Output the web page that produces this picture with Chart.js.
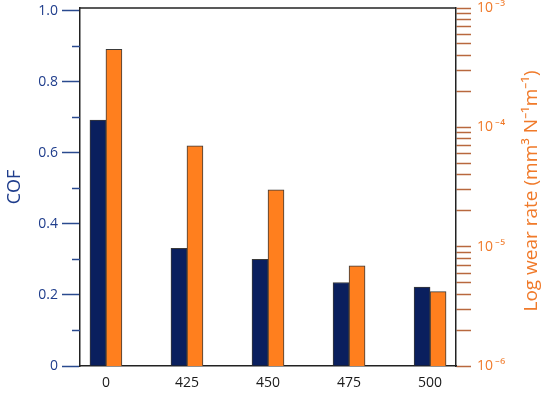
<!DOCTYPE html>
<html><head><meta charset="utf-8">
<script src="https://cdn.jsdelivr.net/npm/chart.js@4/dist/chart.umd.min.js"></script>
<style>html,body{margin:0;padding:0;background:#fff}</style>
</head><body>
<canvas id="c" width="550" height="394"></canvas>
<script>
const categories = ['0', '425', '450', '475', '500'];
const cofValues = [0.692, 0.331, 0.300, 0.235, 0.222];
const wearValues = [4.5e-4, 7.0e-5, 3.0e-5, 6.9e-6, 4.2e-6];
const cofTicks = [0, 0.1, 0.2, 0.3, 0.4, 0.5, 0.6, 0.7, 0.8, 0.9, 1.0];
const cofTickLabels = ['0', '', '0.2', '', '0.4', '', '0.6', '', '0.8', '', '1.0'];
const wearDecadeExponents = [-6, -5, -4, -3];
const wearDecadeLabels = ['10\u2009\u207B\u2076', '10\u2009\u207B\u2075', '10\u2009\u207B\u2074', '10\u2009\u207B\u00B3'];
const wearMantissas = [1, 2, 3, 4, 5, 6, 7, 8, 9];

const NAVY = '#0a1f5e', ORANGE = '#ff7f1e';
const LEFTTXT = '#1f3d8c', RIGHTTXT = '#f07a2a', RIGHTTICK = '#b8683e';
const FONT = "'Open Sans', 'Liberation Sans', sans-serif";

const wearTickValues = [];
wearDecadeExponents.forEach((e, i) => {
  if (i < wearDecadeExponents.length - 1) wearMantissas.forEach(m => wearTickValues.push(m * Math.pow(10, e)));
  else wearTickValues.push(Math.pow(10, e));
});
function decadeLabel(v) {
  const e = Math.round(Math.log10(v));
  const idx = wearDecadeExponents.indexOf(e);
  if (idx >= 0 && Math.abs(v - Math.pow(10, e)) / Math.pow(10, e) < 1e-6) return wearDecadeLabels[idx];
  return '';
}

const framePlugin = {
  id: 'frame',
  afterDraw(chart) {
    const {ctx, chartArea} = chart;
    ctx.save();
    ctx.strokeStyle = '#222';
    ctx.lineWidth = 1.5;
    ctx.beginPath();
    ctx.moveTo(chartArea.left, chartArea.top);
    ctx.lineTo(chartArea.right, chartArea.top);
    ctx.stroke();
    const yL = chart.scales.yL;
    ctx.strokeStyle = '#2a4a8f';
    ctx.lineWidth = 1.5;
    cofTicks.forEach((v, i) => {
      if (cofTickLabels[i] !== '') return;
      const y = Math.round(yL.getPixelForValue(v)) + 0.5;
      ctx.beginPath();
      ctx.moveTo(chartArea.left - 8, y);
      ctx.lineTo(chartArea.left, y);
      ctx.stroke();
    });
    ctx.fillStyle = RIGHTTXT;
    ctx.font = "19px " + FONT;
    ctx.textAlign = 'center';
    ctx.textBaseline = 'middle';
    ctx.translate(532, 191);
    ctx.rotate(-Math.PI / 2);
    ctx.fillText('Log wear rate (mm\u00B3 N\u207B\u00B9m\u207B\u00B9)', 0, 0);
    ctx.restore();
  }
};

new Chart(document.getElementById('c'), {
  type: 'bar',
  data: {
    datasets: [
      {
        label: 'COF',
        data: categories.map((c, i) => ({x: i, y: cofValues[i]})),
        yAxisID: 'yL',
        backgroundColor: NAVY,
        borderColor: '#3a3a3a',
        borderWidth: 1,
        barThickness: 16
      },
      {
        label: 'Log wear rate',
        data: categories.map((c, i) => ({x: i, y: wearValues[i]})),
        yAxisID: 'yR',
        backgroundColor: ORANGE,
        borderColor: '#3a3a3a',
        borderWidth: 1,
        barThickness: 16
      }
    ]
  },
  options: {
    responsive: false,
    animation: false,
    devicePixelRatio: 1,
    layout: {padding: {top: 8, left: 0, right: 0, bottom: 0}},
    plugins: {legend: {display: false}, tooltip: {enabled: false}},
    scales: {
      x: {
        type: 'linear',
        min: -0.32,
        max: 4.32,
        offset: false,
        afterBuildTicks: s => { s.ticks = categories.map((c, i) => ({value: i})); },
        ticks: {
          callback: v => categories[v] !== undefined ? categories[v] : '',
          color: '#1a1a1a',
          font: {family: FONT, size: 14},
          padding: 9,
          maxRotation: 0
        },
        grid: {display: false, drawTicks: false},
        border: {display: true, color: '#222', width: 1.5},
        afterFit: s => { s.height = 28; s.paddingLeft = 0; s.paddingRight = 0; }
      },
      yL: {
        type: 'linear',
        position: 'left',
        min: 0,
        max: 1.0076,
        afterBuildTicks: s => { s.ticks = cofTicks.map(v => ({value: v})); },
        ticks: {
          callback: (v) => { const i = cofTicks.findIndex(t => Math.abs(t - v) < 1e-9); return i >= 0 ? cofTickLabels[i] : ''; },
          color: LEFTTXT,
          font: {family: FONT, size: 14},
          padding: 4
        },
        grid: {
          drawOnChartArea: false,
          tickLength: 18,
          tickWidth: 1.5,
          tickColor: c => {
            const i = cofTicks.findIndex(t => Math.abs(t - c.tick.value) < 1e-9);
            return (i >= 0 && cofTickLabels[i] !== '') ? '#2a4a8f' : 'rgba(0,0,0,0)';
          }
        },
        border: {display: true, color: '#222', width: 1.5},
        title: {display: true, text: 'COF', color: LEFTTXT, font: {family: FONT, size: 18}, padding: {top: 4, bottom: 0}},
        afterFit: s => { s.width = 80; s.paddingTop = 0; s.paddingBottom = 0; }
      },
      yR: {
        type: 'logarithmic',
        position: 'right',
        min: 1e-6,
        max: 1e-3,
        afterBuildTicks: s => { s.ticks = wearTickValues.map(v => ({value: v})); },
        ticks: {
          callback: v => decadeLabel(v),
          color: RIGHTTXT,
          font: {family: FONT, size: 14},
          padding: 6,
          autoSkip: false
        },
        grid: {drawOnChartArea: false, tickLength: 15, tickWidth: 1.5, tickColor: RIGHTTICK},
        border: {display: true, color: '#222', width: 1.5},
        afterFit: s => { s.width = 94; s.paddingTop = 0; s.paddingBottom = 0; }
      }
    }
  },
  plugins: [framePlugin]
});
</script>
</body></html>
